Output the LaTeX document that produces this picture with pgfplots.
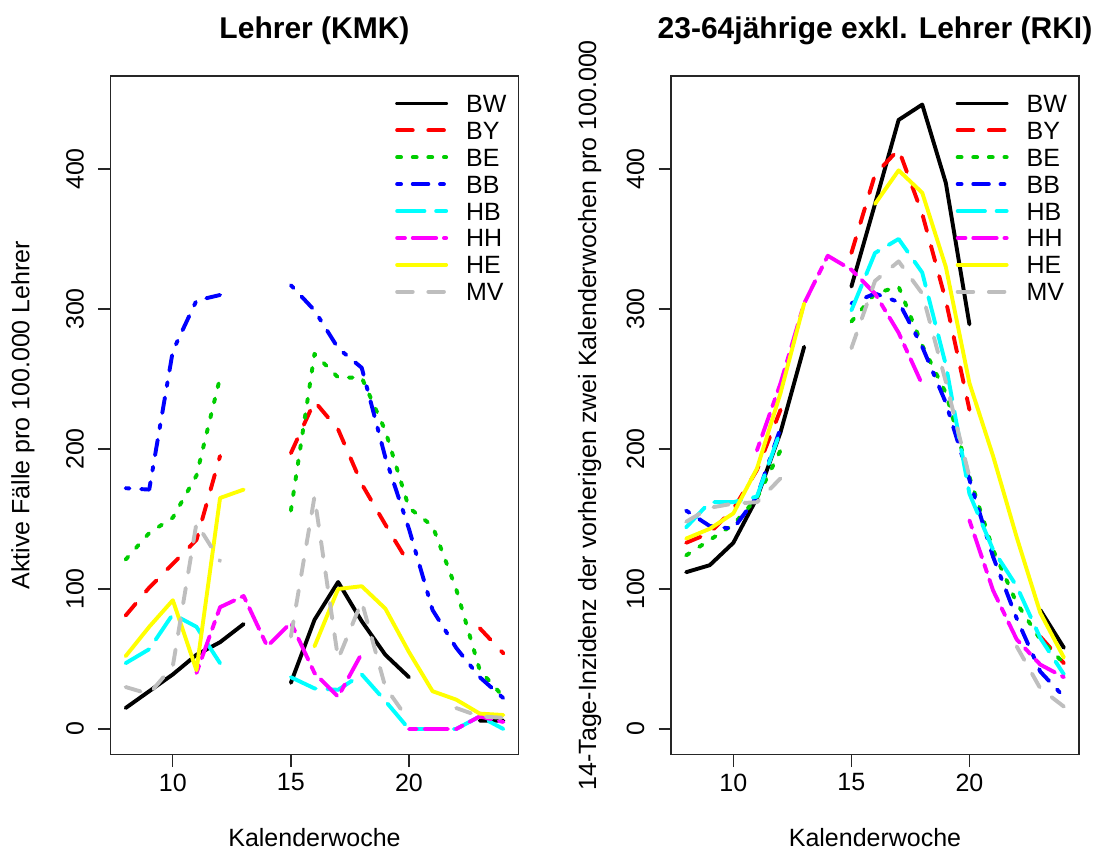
\documentclass[border=0pt]{standalone}
\usepackage{fontspec}
\setmainfont{Liberation Sans}
\usepackage{pgfplots}
\pgfplotsset{compat=1.18}
\definecolor{rgreen}{HTML}{00CD00}
\definecolor{rgray}{HTML}{BEBEBE}
\definecolor{rcyan}{HTML}{00FFFF}
\definecolor{rmag}{HTML}{FF00FF}
\definecolor{ryel}{HTML}{FFFF00}
\pgfplotsset{
  rdash/.style={dash pattern=on 15.6bp off 15.6bp},
  rdot/.style={dash pattern=on 3.9bp off 11.7bp},
  rdotdash/.style={dash pattern=on 3.9bp off 11.7bp on 15.6bp off 11.7bp},
  rlongdash/.style={dash pattern=on 27.3bp off 11.7bp},
  rtwodash/.style={dash pattern=on 7.8bp off 7.8bp on 23.4bp off 7.8bp},
  rbase/.style={
    scale only axis, width=408bp, height=678.5bp,
    xmin=7.36, xmax=24.64, ymin=-18.2, ymax=466.4,
    axis line style={line width=1.3bp, black!85},
    tick style={line width=1.3bp, black!85},
    tick align=outside, major tick length=12.5bp,
    tick pos=left,
    xtick={10,15,20}, ytick={0,100,200,300,400},
    font=\fontsize{25bp}{30bp}\selectfont,
    tick label style={font=\fontsize{25bp}{30bp}\selectfont},
    /pgf/number format/assume math mode=true,
    yticklabel style={anchor=south, inner sep=0pt, xshift=-14bp, rotate=90},
    xticklabel style={anchor=north, inner sep=0pt, yshift=-6.5bp},
    unbounded coords=jump,
    every axis plot/.append style={line width=3.9bp, line cap=round, line join=round},
    legend image code/.code={\draw[##1] (0bp,0bp) -- (49bp,0bp);},
    legend cell align=left,
    legend style={draw=none, fill=none, at={(axis description cs:0.6973,0.9796)}, anchor=north west,
      inner sep=0pt, row sep=0pt, font=\fontsize{25bp}{30bp}\selectfont,
      nodes={inner sep=0pt, text height=22.45bp, text depth=4.45bp},
      /tikz/every odd column/.append style={column sep=18bp}},
    xlabel={Kalenderwoche},
    xlabel style={at={(axis description cs:0.5,-0.1349)}, anchor=base, inner sep=0pt},
    title style={at={(axis description cs:0.5,1.0575)}, anchor=center, inner sep=0pt,
      font=\bfseries\fontsize{30bp}{36bp}\selectfont},
  }
}
\begin{document}
\begin{tikzpicture}[x=1bp,y=1bp]
\path[use as bounding box] (0bp,0bp) rectangle (1098bp,852bp);
% ---------------- left panel
\begin{axis}[rbase, at={(110.5bp,97.5bp)}, anchor=south west,
  title={Lehrer (KMK)},
  ylabel={Aktive Fälle pro 100.000 Lehrer},
  ylabel style={at={(axis description cs:-0.2145,0.5)}, anchor=center, inner sep=0pt}]
\addplot[black] coordinates {(8,15)(9,27)(10,39)(11,53)(12,62)(13,75)(14,nan)(15,33)(16,78)(17,105)(18,77)(19,53)(20,37)(21,nan)(22,nan)(23,6)(24,6)};
\addlegendentry{BW}
\addplot[red, rdash] coordinates {(8,81)(9,101)(10,118)(11,135)(12,195)(13,nan)(14,nan)(15,197)(16,234)(17,214)(18,175)(19,146)(20,118)(21,nan)(22,nan)(23,72)(24,54)};
\addlegendentry{BY}
\addplot[rgreen, rdot] coordinates {(8,121)(9,140)(10,151)(11,181)(12,251)(13,nan)(14,nan)(15,156)(16,268)(17,251)(18,251)(19,213)(20,158)(21,145)(22,100)(23,42)(24,23)};
\addlegendentry{BE}
\addplot[blue, rdotdash] coordinates {(8,172)(9,171)(10,270)(11,306)(12,310)(13,nan)(14,nan)(15,317)(16,299)(17,272)(18,258)(19,194)(20,143)(21,85)(22,58)(23,37)(24,22)};
\addlegendentry{BB}
\addplot[rcyan, rlongdash] coordinates {(8,47)(9,57)(10,82)(11,73)(12,47)(13,nan)(14,nan)(15,37)(16,29)(17,28)(18,39)(19,20)(20,0)(21,0)(22,0)(23,9)(24,0)};
\addlegendentry{HB}
\addplot[rmag, rtwodash] coordinates {(11,40)(12,87)(13,95)(14,59)(15,76)(16,40)(17,23)(18,54)(19,nan)(20,0)(21,0)(22,0)(23,9)(24,5)};
\addlegendentry{HH}
\addplot[ryel] coordinates {(8,52)(9,73)(10,92)(11,42)(12,165)(13,171)(14,nan)(15,nan)(16,59)(17,100)(18,102)(19,86)(20,55)(21,27)(22,21)(23,11)(24,10)};
\addlegendentry{HE}
\addplot[rgray, rdash] coordinates {(8,30)(9,25)(10,45)(11,147)(12,120)(13,nan)(14,nan)(15,66)(16,166)(17,50)(18,91)(19,30)(20,6)(21,nan)(22,15)(23,9)(24,8)};
\addlegendentry{MV}
\end{axis}
% ---------------- right panel
\begin{axis}[rbase, at={(671bp,97.5bp)}, anchor=south west,
  title={23-64jährige exkl. Lehrer (RKI)},
  ylabel={14-Tage-Inzidenz der vorherigen zwei Kalenderwochen pro 100.000},
  ylabel style={at={(axis description cs:-0.1995,0.5)}, anchor=center, inner sep=0pt}]
\addplot[black] coordinates {(8,112)(9,117)(10,133)(11,165)(12,212)(13,273)(14,nan)(15,316)(16,375)(17,435)(18,446)(19,390)(20,289)(21,nan)(22,nan)(23,85)(24,58)};
\addlegendentry{BW}
\addplot[red, rdash] coordinates {(8,133)(9,140)(10,157)(11,185)(12,228)(13,nan)(14,nan)(15,340)(16,396)(17,414)(18,368)(19,306)(20,228)(21,nan)(22,nan)(23,66)(24,47)};
\addlegendentry{BY}
\addplot[rgreen, rdot] coordinates {(8,124)(9,135)(10,146)(11,165)(12,199)(13,nan)(14,nan)(15,291)(16,311)(17,316)(18,274)(19,240)(20,180)(21,128)(22,90)(23,64)(24,47)};
\addlegendentry{BE}
\addplot[blue, rdotdash] coordinates {(8,156)(9,145)(10,143)(11,166)(12,215)(13,nan)(14,nan)(15,304)(16,311)(17,305)(18,273)(19,233)(20,178)(21,123)(22,79)(23,41)(24,23)};
\addlegendentry{BB}
\addplot[rcyan, rlongdash] coordinates {(8,144)(9,162)(10,162)(11,166)(12,213)(13,nan)(14,nan)(15,299)(16,340)(17,350)(18,326)(19,260)(20,168)(21,128)(22,102)(23,65)(24,39)};
\addlegendentry{HB}
\addplot[rmag, rtwodash] coordinates {(11,199)(12,247)(13,304)(14,338)(15,328)(16,311)(17,283)(18,246)(19,nan)(20,149)(21,99)(22,64)(23,46)(24,37)};
\addlegendentry{HH}
\addplot[ryel] coordinates {(8,136)(9,143)(10,154)(11,186)(12,240)(13,304)(14,nan)(15,nan)(16,375)(17,399)(18,383)(19,330)(20,247)(21,195)(22,137)(23,83)(24,51)};
\addlegendentry{HE}
\addplot[rgray, rdash] coordinates {(8,148)(9,158)(10,161)(11,162)(12,179)(13,nan)(14,nan)(15,272)(16,320)(17,334)(18,311)(19,248)(20,180)(21,nan)(22,59)(23,29)(24,16)};
\addlegendentry{MV}
\end{axis}
\end{tikzpicture}
\end{document}
